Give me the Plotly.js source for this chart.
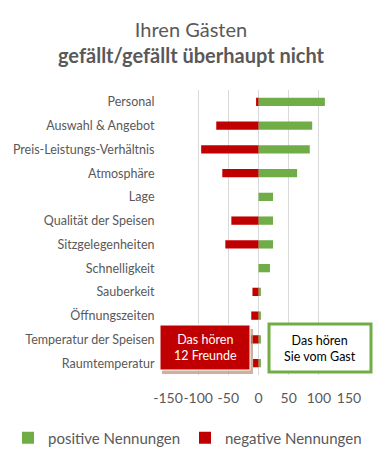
<!DOCTYPE html>
<html><head><meta charset="utf-8">
<script src="https://cdn.plot.ly/plotly-3.0.1.min.js"></script>
<style>html,body{margin:0;padding:0;background:#fff}#chart{width:382px;height:460px}</style>
</head><body><div id="chart"></div>
<script>
const categories = ["Personal","Auswahl & Angebot","Preis-Leistungs-Verhältnis","Atmosphäre","Lage","Qualität der Speisen","Sitzgelegenheiten","Schnelligkeit","Sauberkeit","Öffnungszeiten","Temperatur der Speisen","Raumtemperatur"];
const positive = [110, 89, 85, 64, 24, 24, 24, 19, 4, 4, 4, 4];
const negative = [-4, -70, -95, -60, 0, -45, -55, 0, -10, -12, -13, -9];
const tickVals = [-150, -100, -50, 0, 50, 100, 150];

const fontFam = "Lato, 'Open Sans', sans-serif";
const gray = "#595959";

const traces = [
  {type:"bar", orientation:"h", name:"positive Nennungen", y:categories, x:positive,
   marker:{color:"#70AD47"}, width:0.35, hoverinfo:"x+y", legend:"legend", showlegend:true},
  {type:"bar", orientation:"h", name:"negative Nennungen", y:categories, x:negative,
   marker:{color:"#C00000"}, width:0.35, hoverinfo:"x+y", legend:"legend2", showlegend:true}
];

// helpers for box placement in paper coordinates (plot area 168..349 x, 90..375 y)
const L=168, R=349, T=90, B=375;
const px = v => (v-L)/(R-L);
const py = v => (B-v)/(B-T);

const legendBase = {orientation:"h", xref:"container", xanchor:"left",
  yref:"container", y:(460-438)/460, yanchor:"middle", itemwidth:30,
  font:{family:fontFam, size:15, color:gray}, bgcolor:"rgba(0,0,0,0)", visible:true};

const layout = {
  width:382, height:460,
  showlegend:true,
  margin:{l:L, r:382-R, t:T, b:460-B},
  paper_bgcolor:"#fff", plot_bgcolor:"#fff",
  barmode:"relative",
  title:{text:"Ihren Gästen<br><b>gefällt/gefällt überhaupt nicht</b>",
         font:{family:fontFam, size:20, color:gray},
         x:0.5, xref:"container", xanchor:"center",
         y:0.919, yref:"container", yanchor:"top"},
  xaxis:{range:[-150,150], tickvals:tickVals, ticktext:tickVals.map(String),
         tickangle:0, automargin:false,
         showgrid:true, gridcolor:"#D9D9D9", gridwidth:1, zeroline:false,
         showline:false, ticks:"outside", ticklen:10, tickcolor:"rgba(0,0,0,0)",
         tickfont:{family:fontFam, size:14, color:gray}, fixedrange:true},
  yaxis:{type:"category", autorange:"reversed", showgrid:false, zeroline:false,
         automargin:false,
         showline:false, ticks:"outside", ticklen:10, tickcolor:"rgba(0,0,0,0)",
         tickfont:{family:fontFam, size:12.5, color:gray}, fixedrange:true},
  legend: Object.assign({}, legendBase, {x:8/382}),
  legend2: Object.assign({}, legendBase, {x:185/382}),
  shapes:[
    {type:"rect", xref:"paper", yref:"paper", x0:px(162), x1:px(253), y0:py(329), y1:py(374),
     fillcolor:"rgba(190,150,130,0.75)", line:{width:0}, layer:"above"},
    {type:"rect", xref:"paper", yref:"paper", x0:px(160), x1:px(250), y0:py(325), y1:py(370),
     fillcolor:"#C00000", line:{color:"#fff", width:1}, layer:"above"},
    {type:"rect", xref:"paper", yref:"paper", x0:px(269), x1:px(371), y0:py(324), y1:py(372),
     fillcolor:"#fff", line:{color:"#70AD47", width:3}, layer:"above"}
  ],
  annotations:[
    {xref:"paper", yref:"paper", x:px(205), y:py(347.5), xanchor:"center", yanchor:"middle",
     text:"Das hören<br>12 Freunde",
     showarrow:false, font:{family:fontFam, size:12.5, color:"#fff"}, align:"center"},
    {xref:"paper", yref:"paper", x:px(320), y:py(348), xanchor:"center", yanchor:"middle",
     text:"Das hören<br>Sie vom Gast",
     showarrow:false, font:{family:fontFam, size:12.5, color:"#000"}, align:"center"}
  ]
};
Plotly.newPlot("chart", traces, layout, {displayModeBar:false, staticPlot:true});
</script></body></html>
